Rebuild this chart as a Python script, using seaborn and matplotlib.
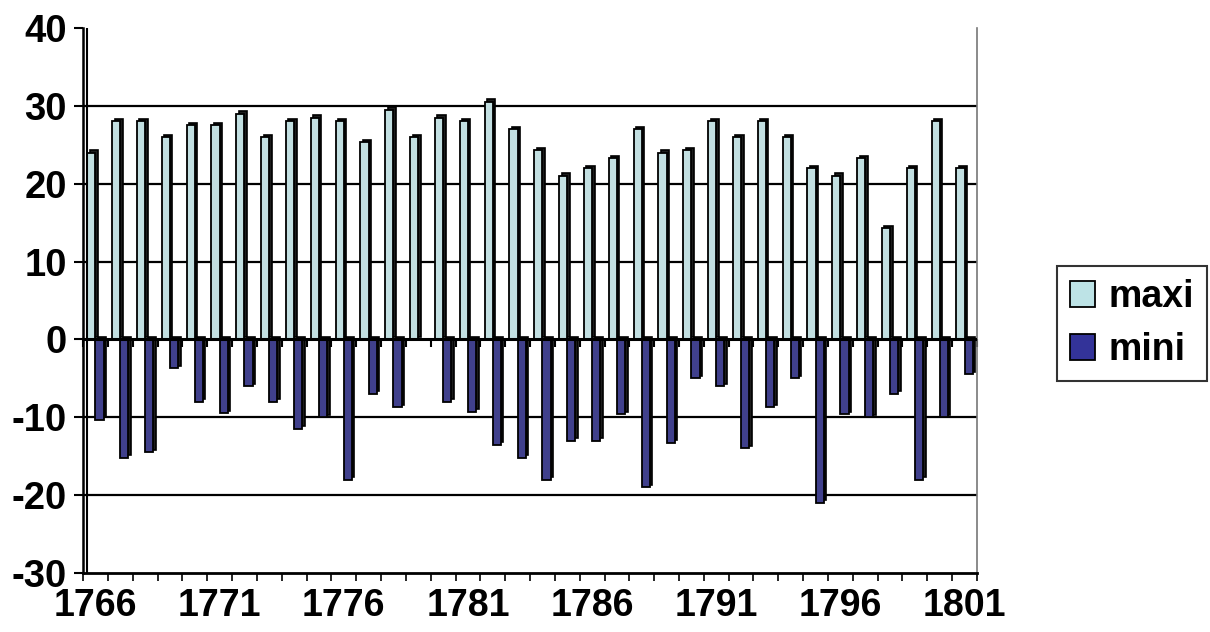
import seaborn as sns
import matplotlib.pyplot as plt
import matplotlib.transforms as mtransforms
from matplotlib.patches import Patch
import numpy as np
import pandas as pd

# data
years = list(range(1766, 1802))
maxi = [24, 28, 28, 26, 27.5, 27.5, 29, 26, 28, 28.5, 28, 25.3,
        29.5, 26, 28.5, 28, 30.5, 27, 24.3, 21, 22, 23.3, 27, 24,
        24.3, 28, 26, 28, 26, 22, 21, 23.3, 14.3, 22, 28, 22]
mini = [-10.3, -15.2, -14.5, -3.7, -8, -9.5, -6, -8, -11.5, -10, -18, -7,
        -8.7, np.nan, -8, -9.3, -13.5, -15.2, -18, -13, -13, -9.6, -19, -13.3,
        -5, -6, -14, -8.7, -5, -21, -9.6, -10, -7, -18, -10, -4.5]
series = ['maxi', 'mini']
colors = ['#BDE3E6', '#333399']
yticks = [-30, -20, -10, 0, 10, 20, 30, 40]
xlabel_years = years[::5]

df = pd.DataFrame({'year': years * 2,
                   'series': ['maxi'] * len(years) + ['mini'] * len(years),
                   'value': maxi + mini})

sns.set_theme(style='white')
plt.rcParams['font.family'] = ['Liberation Sans', 'DejaVu Sans']
plt.rcParams['font.weight'] = 'bold'
plt.rcParams['text.color'] = 'black'
plt.rcParams['xtick.color'] = 'black'
plt.rcParams['ytick.color'] = 'black'
plt.rcParams['xtick.labelcolor'] = 'black'
plt.rcParams['ytick.labelcolor'] = 'black'

fig = plt.figure(figsize=(12.1, 6.32), dpi=100)
ax = fig.add_axes([83 / 1210, (632 - 573) / 632, 894 / 1210, 545 / 632])

# fake 3D depth: dark copy of the bars shifted up-right
sns.barplot(data=df, x='year', y='value', hue='series', hue_order=series,
            palette=['#1c1c1c', '#1c1c1c'], width=0.66, legend=False,
            errorbar=None, ax=ax, zorder=2)
shift = mtransforms.ScaledTranslation(1.8 / 72, 1.8 / 72, fig.dpi_scale_trans)
n_shadow = len(ax.patches)
for p in ax.patches:
    p.set_transform(ax.transData + shift)
    p.set_edgecolor('black')
    p.set_linewidth(1.2)

sns.barplot(data=df, x='year', y='value', hue='series', hue_order=series,
            palette=colors, width=0.66, legend=False, errorbar=None,
            ax=ax, zorder=3)
for p in ax.patches[n_shadow:]:
    p.set_edgecolor('black')
    p.set_linewidth(1.3)

ax.set_xlim(-0.5, len(years) - 0.5)
ax.set_ylim(-30, 40)
ax.set_yticks(yticks)
ax.set_yticklabels([str(v) for v in yticks], fontsize=27.5, fontweight='bold',
                   color='black')
for v in yticks[1:-1]:
    if v != 0:
        ax.axhline(v, color='black', lw=1.6, zorder=1)
ax.axhline(0, color='black', lw=2.2, zorder=4)

ax.set_xticks([years.index(y) for y in xlabel_years])
ax.set_xticklabels([str(y) for y in xlabel_years], fontsize=27,
                   fontweight='bold', color='black')
ax.set_xticks(np.arange(-0.5, len(years), 1), minor=True)
ax.tick_params(axis='x', which='major', length=0, pad=11)
ax.tick_params(axis='x', which='minor', length=6, width=1.2, color='black',
               direction='out', bottom=True)
ax.tick_params(axis='y', length=6.5, width=1.5, color='black', direction='out',
               left=True, pad=5)
ax.set_xlabel('')
ax.set_ylabel('')

# small ticks under the zero line at category boundaries
sec = ax.secondary_xaxis(30 / 70)
sec.set_xticks(np.arange(-0.5, len(years), 1))
sec.set_xticklabels([])
sec.tick_params(axis='x', length=6, width=1.5, color='black', direction='out')
sec.spines['bottom'].set_visible(False)
sec.spines['top'].set_visible(False)

# second line of the left wall
wall = ax.axvline(-0.5, color='black', lw=1.5, zorder=5)
wall.set_transform(ax.get_xaxis_transform()
                   + mtransforms.ScaledTranslation(3 / 72, 0, fig.dpi_scale_trans))

ax.spines['top'].set_visible(False)
ax.spines['left'].set_color('black')
ax.spines['left'].set_linewidth(1.8)
ax.spines['bottom'].set_color('black')
ax.spines['bottom'].set_linewidth(2)
ax.spines['right'].set_color('#777777')
ax.spines['right'].set_linewidth(1.2)

handles = [Patch(facecolor=c, edgecolor='black', linewidth=1.3) for c in colors]
leg = fig.legend(handles, series, loc='upper left',
                 bbox_to_anchor=(1057 / 1210, 1 - 266 / 632),
                 prop={'size': 27, 'weight': 'bold'}, frameon=True,
                 fancybox=False, handlelength=0.67, handleheight=0.67,
                 handletextpad=0.35, borderpad=0.35, labelspacing=0.45,
                 borderaxespad=0)
leg.get_frame().set_edgecolor('black')
leg.get_frame().set_linewidth(1.5)
for t in leg.get_texts():
    t.set_color('black')

fig.savefig('out.png', dpi=100)
